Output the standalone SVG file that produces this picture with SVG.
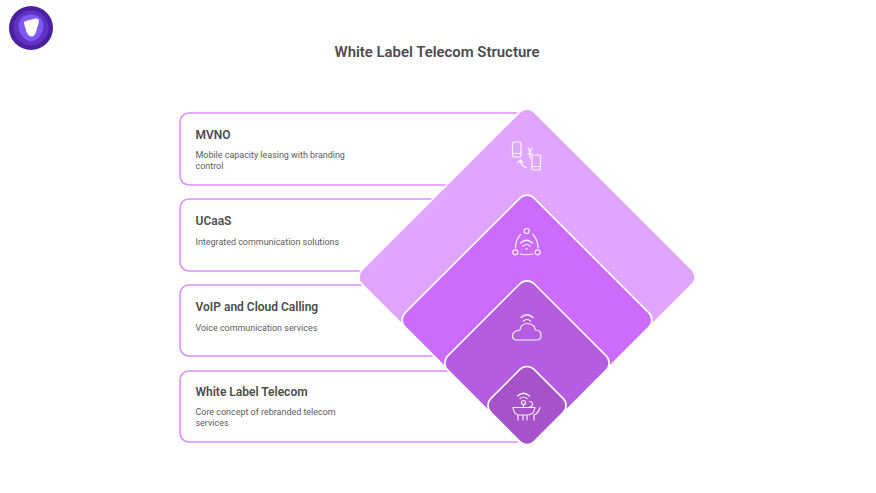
<svg xmlns="http://www.w3.org/2000/svg" width="876" height="493" viewBox="0 0 876 493">
<style>
.card{fill:#fff;stroke:#dc8ffd;stroke-width:1.6}
.t{font-family:Roboto,"Liberation Sans",sans-serif;font-size:12px;font-weight:600;fill:#4c4c4c}
.d{font-family:Roboto,"Liberation Sans",sans-serif;font-size:8.95px;fill:#5c5c5c}
.dm{stroke:#fff;stroke-width:1.6}
.ic{fill:none;stroke:#fff;stroke-width:1.2;stroke-linecap:round;stroke-linejoin:round;opacity:.9}
</style>
<rect width="876" height="493" fill="#fff"/>
<g id="logo">
<circle cx="31" cy="28" r="22" fill="#4a1fa0"/>
<circle cx="31" cy="28" r="17.500" fill="#5f32c4"/>
<path d="M31 14.500C38 14.500 43.500 19 43.500 26C43.500 33 37 41.500 31 41.500C25 41.500 18.500 33 18.500 26C18.500 19 24 14.500 31 14.500Z" fill="#7f5af0"/>
<path d="M24 23.500Q23.500 21.500 25.500 21L35.500 18.500Q39 18 39 21.500L36 32Q34 37 31 36.500Q28.500 36 26.500 32Z" fill="#fff"/>
</g>
<text x="437" y="57" text-anchor="middle" font-family="Roboto,'Liberation Sans',sans-serif" font-size="14.900" font-weight="600" fill="#4c4c4c">White Label Telecom Structure</text>
<g id="card-mvno"><rect class="card" x="180" y="113" width="345" height="72" rx="9"/>
<text class="t" x="195.500" y="139">MVNO</text><text class="d" x="195.500" y="157.500">Mobile capacity leasing with branding</text><text class="d" x="195.500" y="168.500">control</text></g>
<g id="card-ucaas"><rect class="card" x="180" y="199" width="345" height="72" rx="9"/>
<text class="t" x="195.500" y="225">UCaaS</text><text class="d" x="195.500" y="245">Integrated communication solutions</text></g>
<g id="card-voip"><rect class="card" x="180" y="285" width="345" height="71" rx="9"/>
<text class="t" x="195.500" y="310.500">VoIP and Cloud Calling</text><text class="d" x="195.500" y="331">Voice communication services</text></g>
<g id="card-wlt"><rect class="card" x="180" y="371" width="345" height="71" rx="9"/>
<text class="t" x="195.500" y="396">White Label Telecom</text><text class="d" x="195.500" y="414.500">Core concept of rebranded telecom</text><text class="d" x="195.500" y="425.500">services</text></g>
<g id="diamond-1"><rect class="dm" x="405.200" y="155.200" width="243.600" height="243.600" rx="10" transform="rotate(45 527 277)" fill="#e0a6ff"/>
<g class="ic"><rect x="512.500" y="142" width="8.500" height="15" rx="1.500"/><path d="M512.500 153.500H521"/><rect x="532" y="155" width="8.500" height="15" rx="1.500"/><path d="M532 166.500H540.500"/><path d="M528 148L530 152L532 148M530 152V158M528 154H532M518 162.500L520.500 160L523 162.500M520.500 160.500Q520.500 166 526.500 167.500"/></g></g>
<g id="diamond-2"><rect class="dm" x="435.800" y="228.800" width="182.400" height="182.400" rx="10" transform="rotate(45 527 320)" fill="#cc6cff"/>
<g class="ic"><circle cx="526.700" cy="231" r="2.500"/><circle cx="515.300" cy="252.300" r="2.500"/><circle cx="537.700" cy="252.300" r="2.500"/><path d="M520.500 234.500Q515.500 240 515.500 248M533 234.500Q538 240 538 248M520 254Q526.500 255.500 533 254M520.500 243Q526.500 237.500 532.500 243M523 246Q526.500 243 530 246"/><circle cx="526.500" cy="249" r=".4"/></g></g>
<g id="diamond-3"><rect class="dm" x="466" y="302" width="122" height="122" rx="10" transform="rotate(45 527 363)" fill="#b55de0"/>
<g class="ic"><path d="M517 340H536Q541 340 541 335.500Q541 330 535.500 330Q534 323.500 527.500 323.500Q521 323.500 520 330Q512.500 331 512.500 336Q512.500 340 517 340Z"/><path d="M521 317.500Q527 312 533 317.500M523.500 321Q527 318 530.500 321"/></g></g>
<g id="diamond-4"><rect class="dm" x="496.500" y="375" width="61" height="61" rx="10" transform="rotate(45 527 405.500)" fill="#a652c8"/>
<g class="ic"><path d="M517.500 396Q523.500 390.500 529.500 396M520 398.500Q523.500 395.500 527 398.500"/><circle cx="523.500" cy="402.500" r="2"/><path d="M523.500 404.500V407M529.500 401.500Q533 402 532.500 405Q532 407 529.500 407M513 407.500H535Q534 415 527 415H519Q514 415 513 407.500ZM518 415V420M523 415V420M527 415V420M534 415Q538 414 540 407.500M534 415V420"/></g></g>
</svg>
